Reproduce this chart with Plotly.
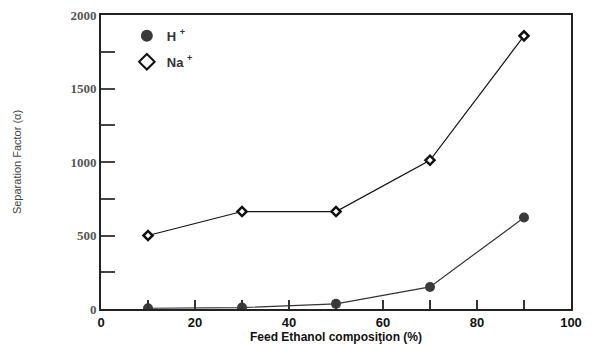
import plotly.graph_objects as go

x_feed = [10, 30, 50, 70, 90]
h_plus = [5, 10, 35, 150, 622]
na_plus = [500, 663, 663, 1012, 1858]

y_tickvals = [0, 250, 500, 750, 1000, 1250, 1500, 1750, 2000]
y_ticktext = ["0", "", "500", "", "1000", "", "1500", "", "2000"]
x_tickvals = [0, 10, 20, 30, 40, 50, 60, 70, 80, 90, 100]
x_ticktext = ["0", "", "20", "", "40", "", "60", "", "80", "", "100"]

h_marker = dict(symbol="circle", size=10, color="#3a3a3a")
na_marker = dict(symbol="diamond", size=7, color="white",
                 line=dict(color="#111111", width=2.5))

fig = go.Figure()
fig.add_trace(go.Scatter(
    x=x_feed, y=h_plus, mode="lines+markers", showlegend=False,
    line=dict(color="#333333", width=1.2), marker=h_marker,
))
fig.add_trace(go.Scatter(
    x=x_feed, y=na_plus, mode="lines+markers", showlegend=False,
    line=dict(color="#111111", width=1.2), marker=na_marker,
))
fig.add_trace(go.Scatter(x=[None], y=[None], mode="markers", legendgroup="h",
                         name="<b>H <sup>+</sup></b>", marker=h_marker))
fig.add_trace(go.Scatter(x=[None], y=[None], mode="markers", legendgroup="na",
                         name="<b>Na <sup>+</sup></b>", marker=na_marker))

fig.update_layout(
    width=602, height=345,
    margin=dict(l=93, r=39, t=7, b=44, autoexpand=False),
    paper_bgcolor="white", plot_bgcolor="white",
    showlegend=True,
    legend=dict(x=0.055, y=0.98, xanchor="left", yanchor="top",
                bgcolor="rgba(0,0,0,0)", itemsizing="constant",
                font=dict(family="Liberation Sans", size=13, color="#333333"),
                tracegroupgap=6),
    xaxis=dict(
        range=[0, 100], tickvals=x_tickvals,
        ticktext=["<b>%s</b>" % t if t else "" for t in x_ticktext],
        ticks="inside", ticklen=9, tickwidth=2, tickcolor="#333333",
        showline=True, linecolor="#222222", linewidth=2, mirror=True,
        showgrid=False, zeroline=False, automargin=False,
        tickfont=dict(family="Liberation Sans", size=13, color="#111111"),
        title=dict(text="<b>Feed Ethanol composiţion (%)</b>", standoff=0,
                   font=dict(family="Liberation Sans", size=12, color="#111111")),
    ),
    yaxis=dict(
        range=[0, 2000], tickvals=y_tickvals,
        ticktext=["<b>%s</b>" % t if t else "" for t in y_ticktext],
        ticks="inside", ticklen=14, tickwidth=2, tickcolor="#444444",
        showline=True, linecolor="#222222", linewidth=2, mirror=True,
        showgrid=False, zeroline=False, automargin=False,
        ticklabeloverflow="allow",
        tickfont=dict(family="Liberation Serif", size=13, color="#555555"),
        title=dict(text="Separation Factor (α)", standoff=47,
                   font=dict(family="Liberation Sans Narrow, Liberation Sans", size=11, color="#444444")),
    ),
)

fig.write_html("out.html")
